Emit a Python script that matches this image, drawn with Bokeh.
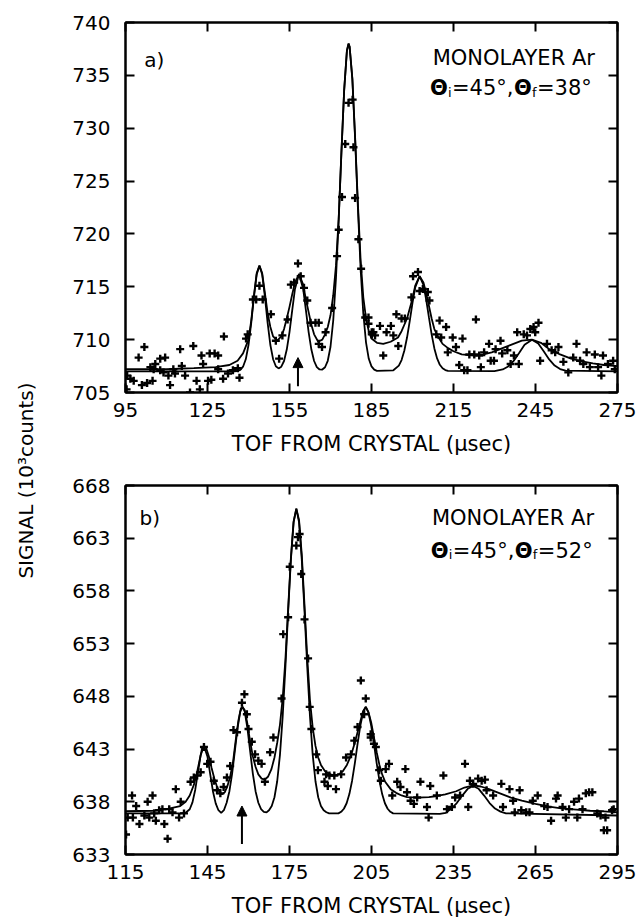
import math
from bokeh.plotting import figure
from bokeh.models import Range1d, LinearAxis, FixedTicker, Label, Arrow, NormalHead
from bokeh.layouts import row, column
from bokeh.embed import file_html
from bokeh.resources import INLINE

FONT = "DejaVu Sans"

# ---------------- data ----------------
xticks_a = [95, 125, 155, 185, 215, 245, 275]
yticks_a = [705, 710, 715, 720, 725, 730, 735, 740]
xticks_b = [115, 145, 175, 205, 235, 265, 295]
yticks_b = [633, 638, 643, 648, 653, 658, 663, 668]

x_title = "TOF FROM CRYSTAL (μsec)"
y_title = "SIGNAL (10³counts)"
panel_tags = ["a)", "b)"]
system_text = "MONOLAYER Ar"
theta_in = ["45", "45"]
theta_out = ["38", "52"]

# measured points, panel a (TOF, signal)
points_a = [
    (95.4, 705.3), (95.6, 706.6), (96.8, 706.3), (98.0, 706.1), (99.8, 708.3), (101.9, 709.3),
    (101.0, 705.7), (102.9, 705.9), (104.9, 706.1), (104.1, 707.4), (105.3, 707.2), (105.9, 707.7),
    (107.7, 708.2), (109.5, 708.3), (107.7, 707.1), (108.9, 706.9), (110.7, 706.6), (111.3, 705.7),
    (112.5, 707.2), (113.1, 706.8), (115.0, 709.1), (115.6, 707.5), (116.8, 706.6), (118.6, 705.0),
    (119.8, 709.4), (121.0, 706.1), (122.2, 705.3), (122.8, 708.5), (123.4, 707.7), (125.2, 706.1),
    (126.4, 706.2), (125.8, 708.7), (127.6, 708.7), (128.9, 708.5), (128.9, 707.2), (130.7, 706.3),
    (131.0, 710.3), (132.5, 706.8), (134.3, 707.1), (136.1, 707.3), (136.7, 706.4), (139.1, 710.1),
    (139.7, 710.5), (141.6, 713.8), (142.8, 713.8), (144.0, 715.1), (145.2, 713.8), (148.2, 712.4),
    (150.0, 709.9), (151.2, 708.2), (152.4, 710.4), (154.3, 711.9), (155.5, 715.2), (156.7, 715.4),
    (158.1, 717.2), (159.1, 716.0), (160.3, 714.9), (161.5, 713.7), (162.7, 711.6), (164.5, 711.6),
    (165.7, 711.6), (165.7, 709.6), (166.9, 709.3), (168.2, 710.7), (170.6, 713.0), (172.4, 717.9),
    (173.0, 720.4), (174.2, 723.5), (175.4, 728.5), (176.6, 732.4), (178.1, 732.7), (178.4, 728.2),
    (179.0, 723.4), (180.2, 719.5), (181.2, 716.7), (182.7, 712.1), (183.9, 711.5), (185.1, 710.7),
    (186.3, 710.4), (183.9, 712.1), (185.1, 710.5), (185.7, 710.7), (188.1, 711.3), (189.3, 708.5),
    (190.5, 710.7), (192.1, 711.3), (193.0, 710.4), (194.1, 712.4), (194.8, 709.4), (196.0, 712.0),
    (197.2, 712.0), (199.6, 714.0), (200.2, 716.0), (202.0, 716.4), (202.6, 714.6), (203.8, 714.8),
    (205.6, 714.5), (206.2, 713.7), (208.7, 710.5), (209.9, 711.8), (210.5, 710.2), (212.3, 711.2),
    (212.9, 708.8), (214.7, 710.2), (215.9, 709.3), (217.1, 707.6), (218.3, 710.1), (218.9, 707.1),
    (220.1, 707.1), (220.8, 708.6), (222.6, 708.6), (223.2, 711.9), (224.4, 708.5), (225.0, 707.4),
    (226.2, 708.8), (228.0, 709.6), (228.6, 708.0), (229.8, 708.0), (230.4, 709.1), (232.2, 709.9),
    (232.8, 708.7), (234.7, 709.0), (235.9, 707.7), (237.1, 708.5), (238.3, 710.7), (238.9, 707.7),
    (240.7, 710.5), (241.9, 710.4), (243.1, 711.0), (244.3, 711.2), (244.9, 710.7), (246.1, 711.6),
    (246.7, 708.0), (249.2, 709.6), (250.9, 709.0), (252.2, 708.8), (253.4, 709.3), (255.2, 707.9),
    (257.0, 706.9), (258.8, 708.3), (260.0, 709.6), (261.3, 708.0), (262.5, 707.7), (263.7, 708.8),
    (264.9, 707.4), (266.7, 708.6), (267.9, 707.4), (269.1, 706.6), (269.7, 708.5), (271.5, 707.7),
    (273.4, 708.0), (274.0, 707.2),
]

# resolution-limited fit, panel a
fit_narrow_a = [
    (95, 707.0), (135, 707.0), (136, 707.04), (137, 707.14), (138, 707.44), (139, 708.14),
    (140, 709.49), (141, 711.58), (142, 714.07), (143, 716.17), (144, 717.0), (145, 716.17),
    (146, 714.07), (147, 711.58), (148, 709.49), (149, 708.15), (150, 707.48), (151, 707.28),
    (152, 707.44), (153, 707.98), (154, 709.06), (155, 710.72), (156, 712.80), (157, 714.79),
    (158.5, 716.2), (160, 714.79), (161, 712.80), (162, 710.72), (163, 709.06), (164, 707.98),
    (165, 707.40), (166, 707.18), (167, 707.17), (168, 707.39), (169, 708.0), (170, 709.33),
    (171, 711.81), (172, 715.81), (173, 721.35), (174, 727.74), (175, 733.62), (176, 737.35),
    (176.6, 738.0), (177, 737.7), (178, 734.6), (179, 729.0), (180, 722.6), (181, 716.8),
    (182, 712.47), (183, 709.72), (184, 708.19), (185, 707.47), (186, 707.16), (187, 707.05),
    (193, 707.1), (195, 707.54), (196, 708.07), (197, 708.95), (198, 710.20), (199, 711.78),
    (200, 713.47), (201, 714.94), (202.6, 716.0), (204, 715.18), (205, 713.79), (206, 712.12),
    (207, 710.50), (208, 709.17), (209, 708.22), (210, 707.62), (211, 707.29), (212, 707.12),
    (213, 707.05), (230, 707.03), (233, 707.18), (235, 707.46), (237, 707.99), (239, 708.74),
    (241, 709.51), (243.7, 710.0), (246, 709.63), (248, 708.90), (250, 708.13), (252, 707.55),
    (254, 707.22), (256, 707.07), (275, 707.0),
]

# broadened fit, panel a
fit_broad_a = [
    (95, 707.2), (110, 707.2), (120, 707.3), (128, 707.4), (133, 707.6), (136, 708.0), (138, 708.7),
    (140, 710.0), (141, 711.8), (142, 714.2), (143, 716.3), (144, 717.0), (145, 716.3), (146, 714.4),
    (147, 712.5), (148, 711.2), (149, 710.3), (150.5, 709.9), (152, 710.3), (153, 711.0), (154, 712.0),
    (155, 713.1), (156, 714.3), (157, 715.4), (158.5, 716.2), (160, 715.2), (161, 713.8), (162, 712.6),
    (163, 711.4), (164, 710.5), (165.5, 709.8), (167, 710.0), (168, 710.5), (169, 711.2), (170, 712.3),
    (171, 714.2), (172, 717.0), (173, 721.5), (174, 727.8), (175, 733.6), (176, 737.3), (176.6, 738.0),
    (177, 737.7), (178, 734.7), (179, 729.2), (180, 723.0), (181, 717.6), (182, 714.0), (183, 712.0),
    (184, 710.8), (185, 710.1), (187, 709.7), (189.3, 709.6), (192, 709.8), (194.7, 710.2), (196, 710.8),
    (198, 712.0), (200, 713.9), (201, 715.1), (202.6, 716.0), (204, 715.4), (205, 714.4), (206, 713.2),
    (207, 712.0), (208, 711.0), (209.3, 710.3), (211, 709.6), (213, 709.2), (215, 708.9), (218, 708.6),
    (222.5, 708.5), (226, 708.6), (229, 708.8), (232, 709.1), (236, 709.5), (240, 709.9), (243.7, 710.0),
    (247, 709.7), (250, 709.1), (254, 708.6), (258, 708.2), (262, 707.95), (266, 707.75), (270, 707.6),
    (275, 707.5),
]

# measured points, panel b
points_b = [
    (115.2, 634.9), (115.8, 636.5), (117.7, 636.5), (117.4, 638.6), (118.9, 637.6), (120.1, 635.9),
    (121.9, 636.7), (123.1, 638.0), (124.9, 638.6), (123.7, 636.5), (125.5, 636.9), (126.1, 636.2),
    (127.3, 637.2), (128.5, 637.3), (129.2, 635.9), (130.4, 634.5), (131.0, 637.3), (132.2, 637.0),
    (133.4, 639.2), (134.6, 636.5), (135.2, 638.0), (136.4, 636.9), (138.8, 639.9), (140.0, 640.3),
    (141.2, 640.5), (142.5, 640.8), (143.7, 643.2), (144.9, 641.6), (146.1, 641.8), (147.3, 640.0),
    (148.5, 639.1), (149.7, 638.8), (150.9, 639.4), (152.1, 640.3), (153.3, 641.4), (154.5, 644.8),
    (155.8, 644.6), (157.6, 647.4), (158.5, 648.2), (159.4, 646.3), (160.0, 644.9), (161.2, 643.7),
    (162.4, 642.5), (163.6, 641.9), (164.8, 641.6), (166.0, 639.9), (167.9, 642.7), (169.1, 644.1),
    (172.1, 647.8), (172.7, 653.9), (174.5, 655.5), (175.1, 660.3), (177.5, 662.3), (178.1, 663.1),
    (178.7, 663.4), (179.3, 659.6), (180.5, 655.3), (181.8, 651.6), (182.4, 647.0), (183.0, 644.9),
    (184.8, 642.5), (185.4, 641.0), (187.8, 639.9), (188.4, 640.6), (189.0, 639.5), (189.6, 640.5),
    (191.4, 640.5), (192.0, 639.2), (193.9, 640.6), (195.7, 642.2), (197.5, 642.5), (198.7, 643.8),
    (199.9, 645.1), (201.1, 649.5), (202.3, 646.3), (202.9, 647.8), (204.7, 644.4), (204.7, 644.1),
    (205.9, 643.5), (206.6, 643.2), (207.8, 641.0), (208.4, 640.0), (210.2, 641.1), (211.4, 641.6),
    (212.6, 638.6), (214.4, 639.9), (215.6, 639.4), (217.4, 641.1), (218.0, 638.9), (219.3, 638.1),
    (220.5, 637.8), (221.7, 638.4), (222.9, 639.9), (225.3, 637.5), (225.9, 636.5), (226.5, 639.5),
    (228.9, 638.6), (231.3, 640.5), (232.6, 637.3), (234.4, 637.5), (235.6, 638.4), (237.4, 638.6),
    (239.2, 641.6), (240.4, 637.5), (241.0, 640.0), (242.2, 639.7), (244.0, 640.2), (245.3, 640.0),
    (246.5, 640.1), (247.1, 639.1), (249.5, 638.6), (252.5, 639.7), (253.1, 637.5), (255.5, 639.2),
    (256.8, 638.1), (257.4, 637.0), (259.2, 639.1), (259.8, 637.2), (261.6, 637.0), (262.8, 637.0),
    (264.0, 638.1), (265.8, 638.6), (268.2, 637.6), (269.4, 637.5), (270.7, 636.2), (272.5, 638.3),
    (273.1, 638.6), (274.9, 637.5), (276.1, 636.5), (277.3, 637.3), (279.1, 638.0), (280.3, 636.5),
    (280.9, 638.3), (282.2, 637.3), (283.4, 638.8), (284.6, 638.9), (285.8, 638.9), (287.6, 636.9),
    (288.8, 636.7), (290.0, 635.3), (291.2, 635.3), (290.6, 636.5), (293.0, 637.2), (293.6, 637.3),
]

# resolution-limited fit, panel b
fit_narrow_b = [
    (115, 636.9), (135, 636.9), (137, 636.96), (138.5, 637.29), (139.5, 637.94), (140.5, 639.12),
    (141.5, 640.78), (142.5, 642.42), (143.7, 643.3), (145, 642.27), (146, 640.61), (147, 638.98),
    (148, 637.85), (149, 637.2), (150, 636.95), (151, 637.2), (152, 637.91), (153, 638.98),
    (154, 640.65), (155, 642.80), (156, 644.99), (157, 646.57), (157.8, 647.0), (158.6, 646.57),
    (159.6, 644.99), (160.6, 642.80), (161.6, 640.65), (162.6, 638.98), (163.6, 637.91), (164.6, 637.3),
    (165.6, 637.05), (166.6, 637.0), (167.5, 637.2), (168.5, 637.6), (169.5, 638.43), (170.5, 639.95),
    (171.5, 642.43), (172.5, 646.07), (173.5, 650.76), (174.5, 656.02), (175.5, 660.94), (176.5, 664.5),
    (177.5, 665.8), (178.5, 664.5), (179.5, 660.94), (180.5, 656.02), (181.5, 650.76), (182.5, 646.07),
    (183.5, 642.43), (184.5, 639.95), (185.5, 638.43), (186.5, 637.6), (187.5, 637.19), (188.5, 637.01),
    (189.5, 636.9), (192.9, 636.9), (193.9, 637.05), (194.9, 637.34), (195.9, 637.86), (196.9, 638.73),
    (197.9, 640.0), (198.9, 641.65), (199.9, 643.49), (200.9, 645.2), (201.9, 646.45), (202.9, 647.0),
    (203.9, 646.45), (204.9, 645.2), (205.9, 643.49), (206.9, 641.65), (207.9, 640.0), (208.9, 638.73),
    (209.9, 637.86), (210.9, 637.34), (211.9, 637.05), (212.9, 636.9), (230, 636.85), (232.2, 636.95),
    (234.2, 637.36), (236.2, 637.88), (238.2, 638.59), (240.2, 639.23), (242.2, 639.5), (244.2, 639.23),
    (246.2, 638.59), (248.2, 637.88), (250.2, 637.36), (252.2, 637.07), (254.2, 636.9), (295, 636.7),
]

# broadened fit, panel b
fit_broad_b = [
    (115, 637.1), (125, 637.15), (130, 637.3), (135, 637.6), (137, 638.0), (138.5, 638.6), (140, 639.6),
    (141, 640.6), (142, 641.8), (143, 643.05), (143.7, 643.3), (144.5, 643.1), (145.5, 642.3),
    (146.5, 641.2), (147.5, 640.2), (148.5, 639.4), (149.5, 638.9), (150.3, 638.7), (151.3, 638.9),
    (152.3, 639.5), (153.3, 640.4), (154.3, 641.7), (155.3, 643.8), (156.3, 645.7), (157.2, 646.85),
    (157.8, 647.0), (158.6, 646.7), (159.6, 645.4), (160.6, 643.7), (161.6, 642.3), (162.6, 641.3),
    (163.6, 640.6), (164.8, 640.2), (166, 640.1), (167.2, 640.4), (168.4, 641.1), (169.5, 642.2),
    (170.5, 643.6), (171.5, 645.3), (172.5, 647.8), (173.5, 651.5), (174.5, 656.3), (175.5, 661.1),
    (176.5, 664.6), (177.5, 665.8), (178.5, 664.7), (179.5, 661.4), (180.5, 656.6), (181.5, 651.6),
    (182.5, 647.6), (183.5, 645.0), (184.5, 643.3), (185.5, 642.2), (186.5, 641.5), (188, 640.9),
    (190, 640.6), (191.5, 640.5), (193, 640.6), (194.5, 640.9), (196, 641.5), (197.5, 642.4),
    (198.9, 643.6), (199.9, 644.6), (200.9, 645.6), (201.9, 646.6), (202.9, 647.0), (203.9, 646.5),
    (204.9, 645.5), (205.9, 644.1), (206.9, 642.7), (207.9, 641.5), (208.9, 640.6), (210, 639.9),
    (212, 639.2), (214, 638.85), (216, 638.6), (218, 638.45), (222, 638.4), (226, 638.45),
    (229, 638.55), (232, 638.7), (236, 639.0), (239, 639.35), (242.2, 639.55), (245, 639.45),
    (248, 639.2), (252, 638.8), (256, 638.4), (260, 638.1), (265, 637.8), (270, 637.55),
    (275, 637.35), (280, 637.25), (285, 637.15), (290, 637.1), (295, 637.0),
]

# arrows marking the feature: (TOF, signal start, signal end)
arrow_a = (158.1, 705.6, 708.3)
arrow_b = (157.6, 634.0, 637.6)

# text anchors (data units)
tag_pos = [(101.9, 736.5), (120.1, 664.9)]
mono_pos = [(207.4, 736.6), (227.1, 664.9)]
theta_pos = [(206.4, 733.8), (226.7, 661.8)]


def style_axis(ax, size="20px", labels=True, standoff=12):
    ax.axis_line_width = 2
    ax.axis_line_color = "black"
    ax.major_tick_in = 9
    ax.major_tick_out = 0
    ax.major_tick_line_width = 2
    ax.major_tick_line_color = "black"
    ax.minor_tick_line_color = None
    ax.major_label_text_font = FONT
    ax.major_label_text_color = "black"
    ax.major_label_standoff = standoff
    if labels:
        ax.major_label_text_font_size = size
    else:
        ax.major_label_text_font_size = "0px"
        ax.major_label_text_color = None
        ax.major_label_standoff = 0


def make_panel(idx, xr, yr, xticks, yticks, pts, narrow, broad, arr, w, h, borders):
    left, right, top, bottom = borders
    p = figure(width=w, height=h, x_range=Range1d(*xr), y_range=Range1d(*yr),
               toolbar_location=None, output_backend="svg",
               min_border_left=left, min_border_right=right,
               min_border_top=top, min_border_bottom=bottom)
    p.xgrid.visible = False
    p.ygrid.visible = False
    p.outline_line_color = "black"
    p.outline_line_width = 2
    p.background_fill_color = "white"
    p.border_fill_color = "white"

    p.xaxis.ticker = FixedTicker(ticks=xticks)
    p.yaxis.ticker = FixedTicker(ticks=yticks)
    style_axis(p.xaxis[0], standoff=10)
    style_axis(p.yaxis[0], standoff=15)
    p.xaxis.axis_label = x_title
    p.xaxis.axis_label_text_font = FONT
    p.xaxis.axis_label_text_font_size = "21px"
    p.xaxis.axis_label_text_font_style = "normal"
    p.xaxis.axis_label_text_color = "black"
    p.xaxis.axis_label_standoff = 12

    top_ax = LinearAxis(ticker=FixedTicker(ticks=xticks))
    style_axis(top_ax, labels=False)
    p.add_layout(top_ax, "above")
    right_ax = LinearAxis(ticker=FixedTicker(ticks=yticks))
    style_axis(right_ax, labels=False)
    p.add_layout(right_ax, "right")

    bx, by = zip(*broad)
    nx, ny = zip(*narrow)
    p.line(list(bx), list(by), line_color="black", line_width=1.8)
    p.line(list(nx), list(ny), line_color="black", line_width=1.8)
    px, py = zip(*pts)
    p.scatter(list(px), list(py), marker="cross", size=8, line_width=2.4,
              line_color="black")

    ax_, y0, y1 = arr
    p.add_layout(Arrow(end=NormalHead(size=10, fill_color="black", line_color="black"),
                       x_start=ax_, y_start=y0, x_end=ax_, y_end=y1,
                       line_width=2, line_color="black"))

    tx, ty = tag_pos[idx]
    p.add_layout(Label(x=tx, y=ty, text=panel_tags[idx], text_font=FONT,
                       text_font_size="20px", text_baseline="alphabetic",
                       text_color="black"))
    mx, my = mono_pos[idx]
    p.add_layout(Label(x=mx, y=my, text=system_text, text_font=FONT,
                       text_font_size="21px", text_baseline="alphabetic",
                       text_color="black"))
    thx, thy = theta_pos[idx]
    pieces = [("Θ", "21px", 0, 0, "bold"), ("i", "13px", 18, -4, "normal"),
              ("=" + theta_in[idx] + "°,", "21px", 22, 0, "normal"),
              ("Θ", "21px", 84, 0, "bold"), ("f", "13px", 102, -4, "normal"),
              ("=" + theta_out[idx] + "°", "21px", 107, 0, "normal")]
    for txt, fs, xo, yo, st in pieces:
        p.add_layout(Label(x=thx, y=thy, x_offset=xo, y_offset=yo, text=txt,
                           text_font=FONT, text_font_size=fs, text_font_style=st,
                           text_baseline="alphabetic", text_color="black"))
    return p


pa = make_panel(0, (95, 275), (705, 740), xticks_a, yticks_a, points_a,
                fit_narrow_a, fit_broad_a, arrow_a, 602, 460, (89, 17, 22, 68))
pb = make_panel(1, (115, 295), (633, 668), xticks_b, yticks_b, points_b,
                fit_narrow_b, fit_broad_b, arrow_b, 602, 463, (85, 21, 25, 69))

lab = figure(width=36, height=923, x_range=Range1d(0, 36), y_range=Range1d(0, 923),
             toolbar_location=None, output_backend="svg",
             x_axis_location=None, y_axis_location=None,
             min_border_left=0, min_border_right=0, min_border_top=0, min_border_bottom=0)
lab.grid.visible = False
lab.outline_line_color = None
lab.add_layout(Label(x=25, y=443, text=y_title, angle=math.pi / 2,
                     text_align="center", text_baseline="middle",
                     text_font=FONT, text_font_size="20px", text_color="black"))

layout = row(lab, column(pa, pb, spacing=0), spacing=0)
open("out.html", "w").write(file_html(layout, INLINE))
